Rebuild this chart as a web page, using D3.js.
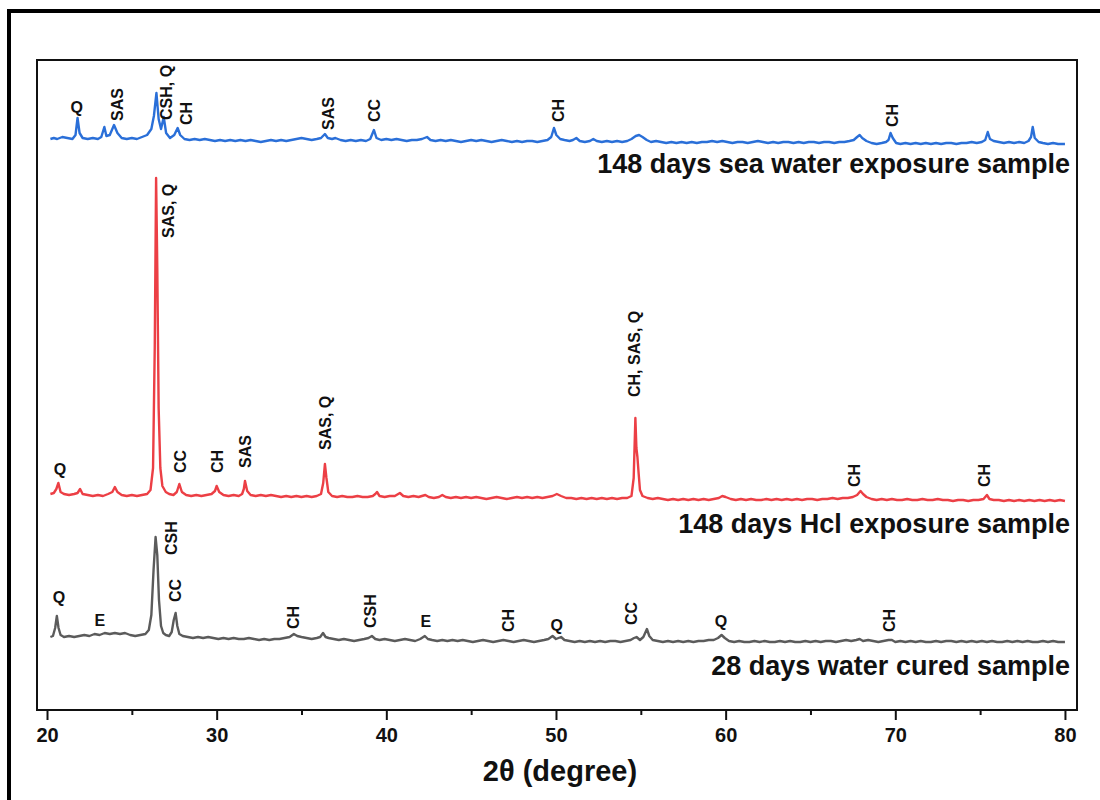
<!DOCTYPE html>
<html>
<head>
<meta charset="utf-8">
<script src="https://cdn.jsdelivr.net/npm/d3@7"></script>
<style>
    body { margin: 0; background: #fff; }
    text { font-family: Arial, "Liberation Sans", sans-serif; font-weight: bold; fill: #111; }
</style>
</head>
<body>
<div id="chart"></div>
<script>
// XRD patterns: [2θ, intensity (a.u., relative to the pattern's own baseline)]
const seaWater = [[20.2,2],[20.4,3],[20.6,2],[20.9,4],[21.2,3],[21.5,2],[21.68,6],[21.8,23],[21.92,8],[22.1,3],[22.4,2],[22.7,3],[23.0,2],[23.2,4],[23.38,14],[23.5,5],[23.7,6],[23.95,16],[24.15,8],[24.4,3],[24.7,2],[25.0,3],[25.3,2],[25.6,4],[25.9,6],[26.15,12],[26.3,25],[26.45,48],[26.58,22],[26.72,12],[26.88,24],[27.02,8],[27.25,3],[27.5,6],[27.7,13],[27.85,6],[28.1,2],[28.4,1],[28.7,2],[29.0,1],[29.3,2],[29.6,1],[29.9,0],[30.2,1],[30.5,0],[30.8,1],[31.1,0],[31.4,1],[31.7,0],[32.0,1],[32.3,0],[32.6,-1],[32.9,0],[33.2,1],[33.5,0],[33.8,1],[34.1,0],[34.4,1],[34.7,2],[35.0,3],[35.3,2],[35.6,1],[35.9,2],[36.15,3],[36.38,7],[36.55,3],[36.8,2],[37.0,3],[37.3,1],[37.6,0],[37.9,1],[38.2,0],[38.5,1],[38.8,0],[39.05,2],[39.27,11],[39.42,3],[39.7,1],[40.0,2],[40.3,1],[40.6,2],[40.9,1],[41.2,0],[41.5,1],[41.8,1],[42.1,2],[42.4,4],[42.6,1],[42.9,0],[43.2,1],[43.5,0],[43.8,1],[44.1,0],[44.4,-1],[44.7,0],[45.0,1],[45.3,0],[45.6,1],[45.9,0],[46.2,-1],[46.5,0],[46.8,1],[47.1,0],[47.4,-1],[47.7,0],[48.0,-1],[48.3,0],[48.6,0],[48.9,-1],[49.2,0],[49.5,1],[49.72,4],[49.88,13],[50.02,6],[50.25,2],[50.5,1],[50.8,0],[51.0,1],[51.2,3],[51.4,0],[51.7,-1],[52.0,0],[52.2,2],[52.4,0],[52.7,-1],[53.0,0],[53.3,-1],[53.6,0],[53.9,-1],[54.2,0],[54.45,2],[54.7,5],[54.9,6],[55.1,4],[55.35,1],[55.6,-1],[55.9,0],[56.2,-1],[56.5,-2],[56.8,-1],[57.1,-2],[57.4,-1],[57.7,-2],[58.0,-1],[58.3,-2],[58.6,-1],[58.9,-1],[59.2,0],[59.5,-1],[59.8,0],[60.1,-1],[60.4,-2],[60.7,-1],[61.0,-1],[61.3,-2],[61.6,-1],[61.9,0],[62.2,-1],[62.5,-2],[62.8,-1],[63.1,-2],[63.4,-1],[63.7,-1],[64.0,-2],[64.3,-1],[64.6,-2],[64.9,-1],[65.2,-1],[65.5,-2],[65.8,-1],[66.1,-1],[66.4,-2],[66.7,-1],[67.0,-1],[67.3,0],[67.55,1],[67.75,4],[67.9,6],[68.05,3],[68.3,0],[68.6,-2],[68.9,-3],[69.2,-2],[69.45,-1],[69.6,1],[69.72,8],[69.85,3],[70.05,-2],[70.3,-3],[70.6,-2],[70.9,-3],[71.2,-2],[71.5,-3],[71.8,-2],[72.1,-3],[72.4,-2],[72.7,-3],[73.0,-2],[73.3,-2],[73.6,-3],[73.9,-2],[74.2,-2],[74.5,-1],[74.8,-2],[75.1,-1],[75.3,1],[75.45,9],[75.58,2],[75.8,0],[76.1,-1],[76.4,-2],[76.7,-1],[77.0,-2],[77.3,-1],[77.6,-2],[77.85,0],[78.0,4],[78.1,14],[78.22,3],[78.45,-1],[78.7,-2],[79.0,-3],[79.3,-2],[79.6,-3],[80.0,-3]];

const hclExposure = [[20.2,4],[20.4,5],[20.55,9],[20.67,15],[20.8,6],[21.0,4],[21.3,3],[21.6,4],[21.8,5],[21.95,9],[22.1,4],[22.4,3],[22.7,2],[23.0,3],[23.3,2],[23.6,4],[23.85,6],[24.0,11],[24.15,6],[24.4,3],[24.7,2],[25.0,3],[25.3,2],[25.6,3],[25.9,4],[26.1,8],[26.25,30],[26.35,150],[26.43,320],[26.5,230],[26.58,90],[26.68,30],[26.8,12],[27.0,6],[27.2,4],[27.45,3],[27.65,6],[27.8,14],[27.95,6],[28.2,3],[28.5,2],[28.8,3],[29.1,2],[29.4,3],[29.7,4],[29.9,7],[30.0,12],[30.15,6],[30.4,3],[30.7,2],[31.0,3],[31.3,2],[31.5,4],[31.6,9],[31.67,17],[31.8,7],[32.0,3],[32.3,2],[32.6,3],[32.9,2],[33.2,3],[33.5,2],[33.8,1],[34.1,2],[34.4,1],[34.7,2],[35.0,1],[35.3,2],[35.6,1],[35.9,2],[36.15,4],[36.28,15],[36.38,34],[36.47,20],[36.58,6],[36.8,2],[37.1,1],[37.4,2],[37.7,1],[38.0,1],[38.3,2],[38.6,1],[38.9,1],[39.2,2],[39.35,4],[39.45,6],[39.6,2],[39.9,1],[40.2,2],[40.5,2],[40.8,5],[41.0,2],[41.3,1],[41.6,2],[41.9,1],[42.1,2],[42.3,3],[42.5,1],[42.8,0],[43.1,1],[43.3,3],[43.5,1],[43.8,0],[44.1,1],[44.4,0],[44.7,1],[45.0,0],[45.3,1],[45.6,0],[45.9,-1],[46.2,0],[46.5,1],[46.8,0],[47.1,-1],[47.4,0],[47.7,1],[48.0,0],[48.3,1],[48.6,0],[48.9,1],[49.2,0],[49.5,1],[49.8,2],[50.05,4],[50.3,2],[50.6,0],[50.9,0],[51.2,-1],[51.5,0],[51.8,-1],[52.1,0],[52.4,-1],[52.7,0],[53.0,-1],[53.3,0],[53.6,-1],[53.9,0],[54.2,0],[54.45,2],[54.58,20],[54.68,80],[54.74,50],[54.8,41],[54.87,25],[54.95,8],[55.1,2],[55.4,0],[55.7,-1],[56.0,0],[56.3,-1],[56.6,-2],[56.9,-1],[57.2,-2],[57.5,-1],[57.8,-2],[58.1,-1],[58.4,-2],[58.7,-1],[59.0,-2],[59.3,-1],[59.6,0],[59.8,2],[60.0,1],[60.3,-1],[60.6,-2],[60.9,-1],[61.2,-2],[61.5,-1],[61.8,-2],[62.1,-2],[62.4,-1],[62.7,-2],[63.0,-1],[63.3,-2],[63.6,-1],[63.9,-2],[64.2,-1],[64.5,-2],[64.8,-1],[65.1,-1],[65.4,-2],[65.7,-1],[66.0,-1],[66.3,0],[66.6,-1],[66.9,0],[67.2,0],[67.5,1],[67.75,3],[67.95,7],[68.1,4],[68.3,1],[68.6,-1],[68.9,-2],[69.2,-1],[69.5,-2],[69.8,-1],[70.1,-2],[70.4,-2],[70.7,-1],[71.0,-2],[71.3,-2],[71.6,-1],[71.9,-2],[72.2,-2],[72.5,-1],[72.8,-2],[73.1,-2],[73.4,-3],[73.7,-2],[74.0,-2],[74.3,-3],[74.6,-2],[74.9,-2],[75.2,-1],[75.4,3],[75.55,-1],[75.8,-2],[76.1,-2],[76.4,-3],[76.7,-2],[77.0,-3],[77.3,-2],[77.6,-3],[77.9,-2],[78.2,-3],[78.5,-2],[78.8,-3],[79.1,-2],[79.4,-3],[79.7,-2],[80.0,-3]];

const waterCured = [[20.2,3],[20.35,4],[20.48,12],[20.58,24],[20.68,12],[20.8,5],[21.0,3],[21.3,4],[21.6,3],[21.9,4],[22.2,5],[22.5,4],[22.8,6],[23.1,5],[23.4,7],[23.7,6],[24.0,7],[24.3,6],[24.6,7],[24.9,5],[25.2,4],[25.5,5],[25.8,6],[26.0,10],[26.15,25],[26.28,70],[26.4,103],[26.5,85],[26.6,40],[26.72,14],[26.85,7],[27.0,5],[27.2,4],[27.35,8],[27.47,20],[27.58,27],[27.68,14],[27.8,6],[28.0,4],[28.3,3],[28.6,2],[28.9,3],[29.2,2],[29.5,3],[29.8,2],[30.1,1],[30.4,2],[30.7,1],[31.0,2],[31.3,1],[31.6,1],[31.9,2],[32.2,1],[32.5,0],[32.8,1],[33.1,0],[33.4,1],[33.7,1],[34.0,2],[34.3,3],[34.55,6],[34.75,4],[35.0,3],[35.3,2],[35.6,1],[35.9,2],[36.1,3],[36.27,7],[36.42,3],[36.6,2],[36.9,1],[37.2,0],[37.5,1],[37.8,0],[38.1,-1],[38.4,0],[38.7,1],[38.95,2],[39.15,4],[39.35,1],[39.6,0],[39.9,1],[40.2,0],[40.5,-1],[40.8,0],[41.1,1],[41.4,0],[41.7,-1],[42.0,1],[42.27,4],[42.45,1],[42.7,0],[43.0,-1],[43.3,0],[43.6,-1],[43.9,0],[44.2,-1],[44.5,0],[44.8,-1],[45.1,-2],[45.4,-1],[45.7,0],[46.0,-1],[46.3,-2],[46.6,-1],[46.9,0],[47.2,-1],[47.5,-2],[47.8,-1],[48.1,0],[48.4,-1],[48.7,-2],[49.0,-1],[49.3,0],[49.55,1],[49.8,4],[50.0,1],[50.3,3],[50.5,0],[50.8,-1],[51.1,-2],[51.4,-1],[51.7,-2],[52.0,-1],[52.3,-2],[52.6,-1],[52.9,-2],[53.2,-1],[53.5,-1],[53.8,-2],[54.1,-1],[54.4,0],[54.6,2],[54.75,3],[54.95,0],[55.15,3],[55.36,11],[55.5,4],[55.7,0],[56.0,-1],[56.3,-2],[56.6,-1],[56.9,-2],[57.2,-1],[57.5,-2],[57.8,-1],[58.1,-2],[58.4,-1],[58.7,-1],[59.0,0],[59.3,0],[59.55,2],[59.76,5],[59.95,2],[60.2,-1],[60.5,-2],[60.8,-1],[61.1,-2],[61.4,-2],[61.7,-1],[62.0,-2],[62.3,-1],[62.6,-2],[62.9,-2],[63.2,-1],[63.5,-2],[63.8,-1],[64.1,-2],[64.4,-2],[64.7,-1],[65.0,-2],[65.3,-1],[65.6,-2],[65.9,-1],[66.2,-1],[66.5,-2],[66.8,-1],[67.1,0],[67.4,-1],[67.7,0],[67.9,1],[68.1,-1],[68.4,0],[68.7,-1],[69.0,-2],[69.3,-1],[69.6,0],[69.8,0],[70.0,-2],[70.3,-1],[70.6,-2],[70.9,-1],[71.2,-2],[71.5,-1],[71.8,-2],[72.1,-2],[72.4,-1],[72.7,-2],[73.0,-1],[73.3,-1],[73.6,-2],[73.9,-1],[74.2,-2],[74.5,-1],[74.8,-2],[75.1,-1],[75.4,-2],[75.7,-1],[76.0,-2],[76.3,-2],[76.6,-1],[76.9,-2],[77.2,-1],[77.5,-2],[77.8,-1],[78.1,-2],[78.4,-2],[78.7,-1],[79.0,-2],[79.3,-1],[79.6,-2],[80.0,-2]];

// phase labels: [2θ, intensity above baseline, text]
const seaWaterPhases = [[21.75,28,"Q"],[24.12,20,"SAS"],[27.05,21,"CSH, Q"],[28.2,16,"CH"],[36.56,11,"SAS"],[39.27,19,"CC"],[50.17,19,"CH"],[69.85,14,"CH"]];
const hclPhases = [[20.77,23,"Q"],[27.13,260,"SAS, Q"],[27.84,25,"CC"],[30.02,25,"CH"],[31.67,30,"SAS"],[36.38,48,"SAS, Q"],[54.65,101,"CH, SAS, Q"],[67.61,11,"CH"],[75.27,11,"CH"]];
const waterCuredPhases = [[20.71,37,"Q"],[23.12,14,"E"],[27.31,85,"CSH"],[27.54,38,"CC"],[34.5,11,"CH"],[39.09,12,"CSH"],[42.33,13,"E"],[47.17,8,"CH"],[50.05,9,"Q"],[54.47,15,"CC"],[59.72,13,"Q"],[69.68,8,"CH"]];

const sampleNames = ["148 days sea water exposure sample", "148 days Hcl exposure sample", "28 days water cured sample"];
const stackOffsets = [569, 212, 70];   // vertical shift of each pattern (a.u.)
const xMajorTicks = [20, 30, 40, 50, 60, 70, 80];
const xMinorTicks = [25, 35, 45, 55, 65, 75];

const patterns = [seaWater, hclExposure, waterCured];
const phaseSets = [seaWaterPhases, hclPhases, waterCuredPhases];
const colors = ["#2a6fd8", "#ec3f45", "#5b5b5b"];

// Set up chart dimensions
const W = 1100, H = 800;
const plot = { left: 37, right: 1077, top: 60, bottom: 710 };

const svg = d3.select("#chart")
    .append("svg")
    .attr("width", W)
    .attr("height", H);

svg.append("rect").attr("width", W).attr("height", H).attr("fill", "#fff");

// outer figure border
svg.append("rect")
    .attr("x", 9).attr("y", 11)
    .attr("width", 1300).attr("height", 1000)
    .attr("fill", "none")
    .attr("stroke", "#000")
    .attr("stroke-width", 4);

const x = d3.scaleLinear()
    .domain([19.41, 80.71])
    .range([plot.left, plot.right]);

const y = d3.scaleLinear()
    .domain([0, 650])
    .range([plot.bottom, plot.top]);

// patterns
const line = d3.line()
    .x(d => x(d[0]));

patterns.forEach((pts, i) => {
    const off = stackOffsets[i];
    svg.append("path")
        .datum(pts)
        .attr("fill", "none")
        .attr("stroke", colors[i])
        .attr("stroke-width", 2.4)
        .attr("stroke-linejoin", "round")
        .attr("d", line.y(d => y(off + d[1])));
});

// phase labels
phaseSets.forEach((set, i) => {
    const off = stackOffsets[i];
    const g = svg.append("g").attr("font-size", 16);
    set.forEach(d => {
        if (d[2].length === 1) {
            g.append("text")
                .attr("x", x(d[0]))
                .attr("y", y(off + d[1]))
                .attr("text-anchor", "middle")
                .text(d[2]);
        } else {
            g.append("text")
                .attr("transform", `translate(${x(d[0])},${y(off + d[1])}) rotate(-90)`)
                .attr("dy", "0.35em")
                .text(d[2]);
        }
    });
});

// sample names, right aligned under each pattern
sampleNames.forEach((name, i) => {
    svg.append("text")
        .attr("x", x(80) + 5)
        .attr("y", y(stackOffsets[i]) + (i === 0 ? 32 : 35))
        .attr("text-anchor", "end")
        .attr("font-size", 27)
        .text(name);
});

// plot frame
svg.append("rect")
    .attr("x", plot.left).attr("y", plot.top)
    .attr("width", plot.right - plot.left)
    .attr("height", plot.bottom - plot.top)
    .attr("fill", "none")
    .attr("stroke", "#111")
    .attr("stroke-width", 2);

// x axis
const xAxis = svg.append("g")
    .attr("transform", `translate(0,${plot.bottom})`)
    .call(d3.axisBottom(x).tickValues(xMajorTicks).tickSize(10).tickPadding(8).tickFormat(d3.format("d")));
xAxis.select(".domain").remove();
xAxis.selectAll("line").attr("stroke", "#111").attr("stroke-width", 2);
xAxis.selectAll("text")
    .attr("font-size", 20)
    .attr("font-family", "Arial, 'Liberation Sans', sans-serif")
    .attr("fill", "#111");

const minor = svg.append("g")
    .attr("transform", `translate(0,${plot.bottom})`)
    .call(d3.axisBottom(x).tickValues(xMinorTicks).tickSize(5).tickFormat(""));
minor.select(".domain").remove();
minor.selectAll("line").attr("stroke", "#111").attr("stroke-width", 2);

svg.append("text")
    .attr("x", (x(20) + x(80)) / 2 + 4)
    .attr("y", 781)
    .attr("text-anchor", "middle")
    .attr("font-size", 29)
    .text("2θ (degree)");
</script>
</body>
</html>
